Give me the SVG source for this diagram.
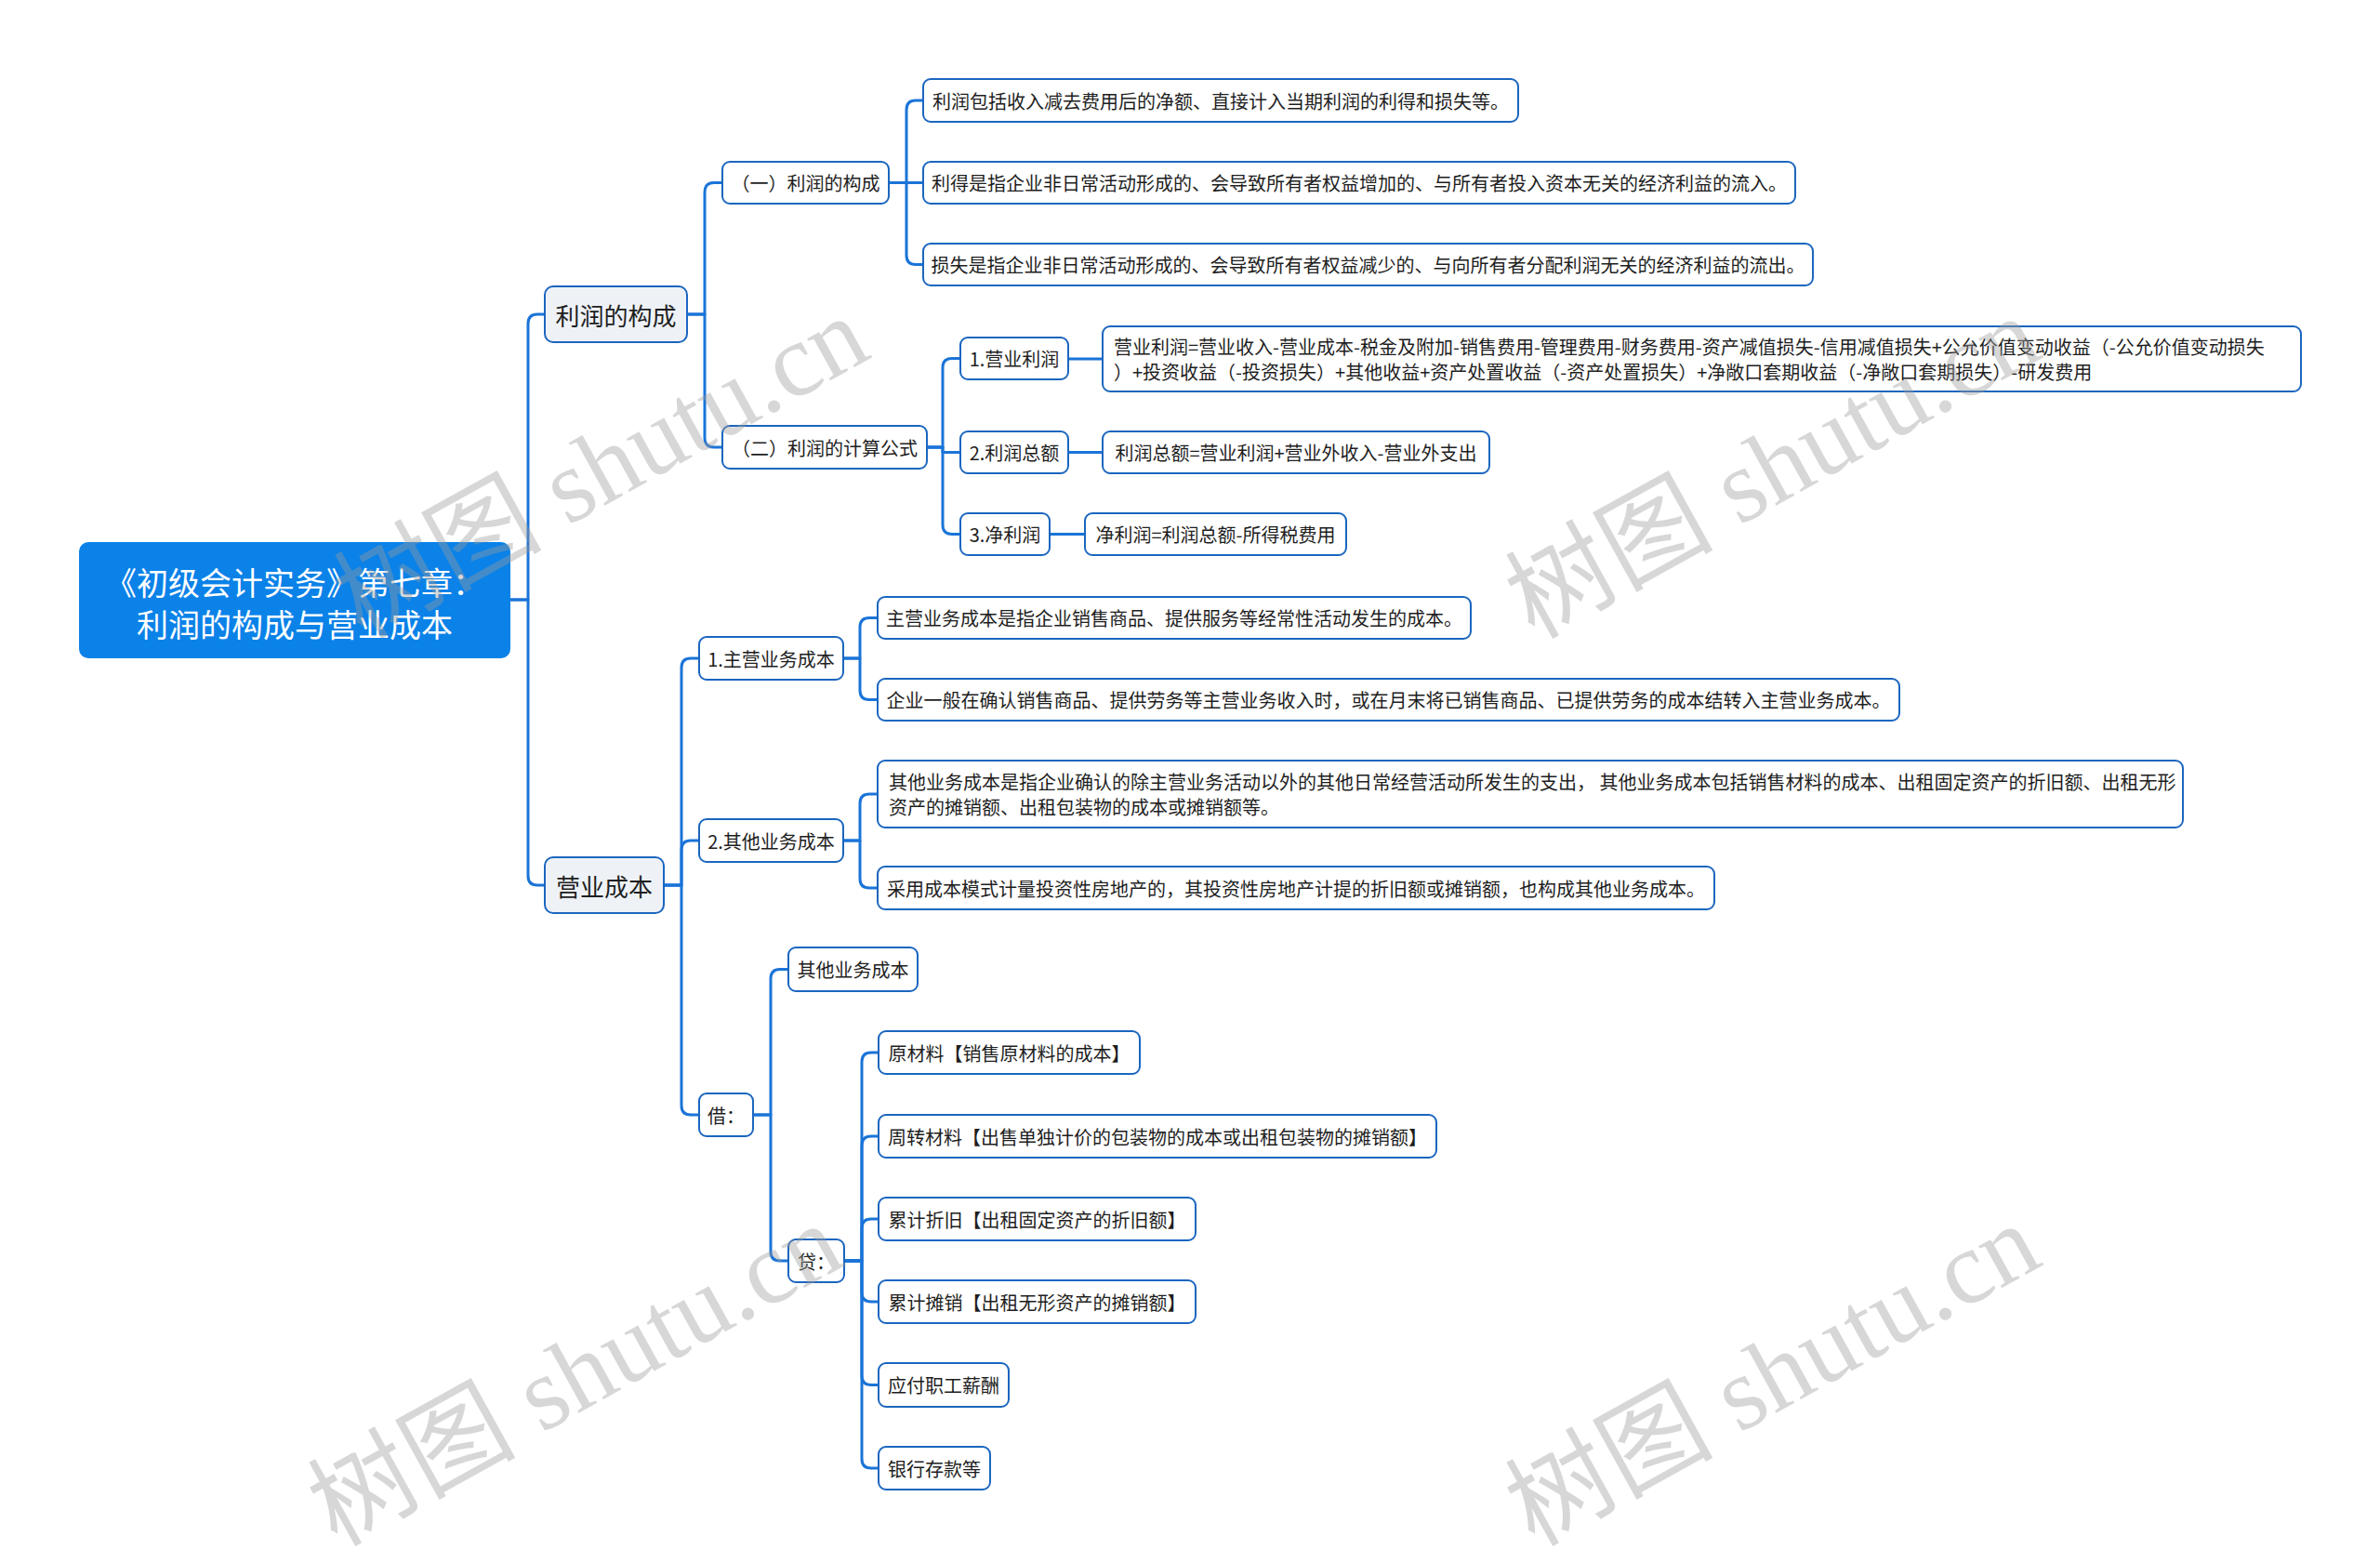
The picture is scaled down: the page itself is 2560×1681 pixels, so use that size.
<svg xmlns="http://www.w3.org/2000/svg" width="2560" height="1681" viewBox="0 0 2560 1681">
<style>
  .bg{fill:#ffffff}
  .box{fill:#ffffff;stroke:#1b66bf;stroke-width:2}
  .l1{fill:#eef2f7;stroke:#1b66bf;stroke-width:2}
  .root{fill:#0b82e8}
  text{font-family:"Noto Sans CJK SC","Noto Sans",sans-serif;fill:#1e1e1e;dominant-baseline:central}
  .t20{font-size:20px}
  .t26{font-size:26px}
  .c{text-anchor:middle}
  .rt{font-size:34px;fill:#ffffff;text-anchor:middle}
  .conn path{fill:none;stroke:#1a74d8;stroke-width:3;stroke-linejoin:round}
  .wm text{font-family:"Liberation Serif","Noto Sans CJK SC",serif;font-size:112px;fill:#9c9c9c;fill-opacity:0.4;dominant-baseline:alphabetic}
</style>
<rect class="bg" x="0" y="0" width="2560" height="1681"/>

<g id="connectors" class="conn">
  <path d="M549 645 H568 V348 Q568 338 578 338 H586"/>
  <path d="M549 645 H568 V942 Q568 952 578 952 H586"/>
  <path d="M739 338 H758 V206.5 Q758 196.5 768 196.5 H777"/>
  <path d="M739 338 H758 V471 Q758 481 768 481 H777"/>
  <path d="M956 196.5 H975 V118 Q975 108 985 108 H993"/>
  <path d="M956 196.5 H993"/>
  <path d="M956 196.5 H975 V274.5 Q975 284.5 985 284.5 H993"/>
  <path d="M996 481 H1014 V395.5 Q1014 385.5 1024 385.5 H1033"/>
  <path d="M996 481 H1014 V486.5 H1033"/>
  <path d="M996 481 H1014 V564.5 Q1014 574.5 1024 574.5 H1033"/>
  <path d="M1149 386 H1186"/>
  <path d="M1149 486.5 H1186"/>
  <path d="M1129 574.5 H1167"/>
  <path d="M714 952 H733 V718 Q733 708 743 708 H752"/>
  <path d="M714 952 H733 V914 Q733 904 743 904 H752"/>
  <path d="M714 952 H733 V1189 Q733 1199 743 1199 H752"/>
  <path d="M907 708 H925 V674.5 Q925 664.5 935 664.5 H944"/>
  <path d="M907 708 H925 V742.5 Q925 752.5 935 752.5 H944"/>
  <path d="M907 904 H925 V864 Q925 854 935 854 H944"/>
  <path d="M907 904 H925 V945 Q925 955 935 955 H944"/>
  <path d="M810 1199 H829 V1052.5 Q829 1042.5 839 1042.5 H848"/>
  <path d="M810 1199 H829 V1346 Q829 1356 839 1356 H848"/>
  <path d="M908 1356 H927 V1142 Q927 1132 937 1132 H945"/>
  <path d="M908 1356 H927 V1232 Q927 1222 937 1222 H945"/>
  <path d="M908 1356 H927 V1321 Q927 1311 937 1311 H945"/>
  <path d="M908 1356 H927 V1390 Q927 1400 937 1400 H945"/>
  <path d="M908 1356 H927 V1479.5 Q927 1489.5 937 1489.5 H945"/>
  <path d="M908 1356 H927 V1569 Q927 1579 937 1579 H945"/>
</g>

<g id="root">
  <rect class="root" x="85" y="583" width="464" height="125" rx="10"/>
  <text class="rt" x="317" y="625">《初级会计实务》第七章：</text>
  <text class="rt" x="317" y="670">利润的构成与营业成本</text>
</g>

<g id="n-lirun">
  <rect class="l1" x="586" y="308" width="153" height="60" rx="9"/>
  <text class="t26 c" x="662.5" y="338">利润的构成</text>
</g>
<g id="n-yingye">
  <rect class="l1" x="586" y="922" width="128" height="60" rx="9"/>
  <text class="t26 c" x="650" y="952">营业成本</text>
</g>

<g id="n-gc1">
  <rect class="box" x="777" y="174" width="179" height="45" rx="8"/>
  <text class="t20 c" x="866.5" y="196.5">（一）利润的构成</text>
</g>
<g id="n-gc2">
  <rect class="box" x="777" y="458" width="220" height="46" rx="8"/>
  <text class="t20 c" x="887" y="481">（二）利润的计算公式</text>
</g>

<g id="n-a1">
  <rect class="box" x="993" y="85" width="640" height="46" rx="8"/>
  <text class="t20 c" x="1313" y="108">利润包括收入减去费用后的净额、直接计入当期利润的利得和损失等。</text>
</g>
<g id="n-a2">
  <rect class="box" x="993" y="174" width="938" height="45" rx="8"/>
  <text class="t20 c" x="1462" y="196.5">利得是指企业非日常活动形成的、会导致所有者权益增加的、与所有者投入资本无关的经济利益的流入。</text>
</g>
<g id="n-a3">
  <rect class="box" x="993" y="262" width="957" height="45" rx="8"/>
  <text class="t20 c" x="1471.5" y="284.5">损失是指企业非日常活动形成的、会导致所有者权益减少的、与向所有者分配利润无关的经济利益的流出。</text>
</g>

<g id="n-b1">
  <rect class="box" x="1033" y="363" width="116" height="45" rx="8"/>
  <text class="t20 c" x="1091" y="385.5">1.营业利润</text>
</g>
<g id="n-b2">
  <rect class="box" x="1033" y="464" width="116" height="45" rx="8"/>
  <text class="t20 c" x="1091" y="486.5">2.利润总额</text>
</g>
<g id="n-b3">
  <rect class="box" x="1033" y="552" width="96" height="45" rx="8"/>
  <text class="t20 c" x="1081" y="574.5">3.净利润</text>
</g>
<g id="n-b1a">
  <rect class="box" x="1186" y="351" width="1289" height="70" rx="8"/>
  <text class="t20" x="1198" y="372.5">营业利润=营业收入-营业成本-税金及附加-销售费用-管理费用-财务费用-资产减值损失-信用减值损失+公允价值变动收益（-公允价值变动损失</text>
  <text class="t20" x="1198" y="399.5">）+投资收益（-投资损失）+其他收益+资产处置收益（-资产处置损失）+净敞口套期收益（-净敞口套期损失）-研发费用</text>
</g>
<g id="n-b2a">
  <rect class="box" x="1186" y="464" width="416" height="45" rx="8"/>
  <text class="t20 c" x="1394" y="486.5">利润总额=营业利润+营业外收入-营业外支出</text>
</g>
<g id="n-b3a">
  <rect class="box" x="1167" y="552" width="281" height="45" rx="8"/>
  <text class="t20 c" x="1307.5" y="574.5">净利润=利润总额-所得税费用</text>
</g>

<g id="n-c1">
  <rect class="box" x="752" y="685" width="155" height="46" rx="8"/>
  <text class="t20 c" x="829.5" y="708">1.主营业务成本</text>
</g>
<g id="n-c2">
  <rect class="box" x="752" y="881" width="155" height="46" rx="8"/>
  <text class="t20 c" x="829.5" y="904">2.其他业务成本</text>
</g>
<g id="n-jie">
  <rect class="box" x="752" y="1176" width="58" height="46" rx="8"/>
  <text class="t20 c" x="781" y="1199">借：</text>
</g>

<g id="n-c1a">
  <rect class="box" x="944" y="642" width="638" height="45" rx="8"/>
  <text class="t20 c" x="1263" y="664.5">主营业务成本是指企业销售商品、提供服务等经常性活动发生的成本。</text>
</g>
<g id="n-c1b">
  <rect class="box" x="944" y="730" width="1099" height="45" rx="8"/>
  <text class="t20 c" x="1493.5" y="752.5">企业一般在确认销售商品、提供劳务等主营业务收入时，或在月末将已销售商品、已提供劳务的成本结转入主营业务成本。</text>
</g>
<g id="n-c2a">
  <rect class="box" x="944" y="818" width="1404" height="72" rx="8"/>
  <text class="t20" x="956" y="840.5">其他业务成本是指企业确认的除主营业务活动以外的其他日常经营活动所发生的支出， 其他业务成本包括销售材料的成本、出租固定资产的折旧额、出租无形</text>
  <text class="t20" x="956" y="867.5">资产的摊销额、出租包装物的成本或摊销额等。</text>
</g>
<g id="n-c2b">
  <rect class="box" x="944" y="932" width="900" height="46" rx="8"/>
  <text class="t20 c" x="1394" y="955">采用成本模式计量投资性房地产的，其投资性房地产计提的折旧额或摊销额，也构成其他业务成本。</text>
</g>

<g id="n-jie1">
  <rect class="box" x="848" y="1019" width="139" height="47" rx="8"/>
  <text class="t20 c" x="917.5" y="1042.5">其他业务成本</text>
</g>
<g id="n-dai">
  <rect class="box" x="848" y="1333" width="60" height="46" rx="8"/>
  <text class="t20 c" x="878" y="1356">贷：</text>
</g>

<g id="n-d1">
  <rect class="box" x="945" y="1109" width="281" height="46" rx="8"/>
  <text class="t20 c" x="1085.5" y="1132">原材料【销售原材料的成本】</text>
</g>
<g id="n-d2">
  <rect class="box" x="945" y="1199" width="600" height="46" rx="8"/>
  <text class="t20 c" x="1245" y="1222">周转材料【出售单独计价的包装物的成本或出租包装物的摊销额】</text>
</g>
<g id="n-d3">
  <rect class="box" x="945" y="1288" width="341" height="46" rx="8"/>
  <text class="t20 c" x="1115.5" y="1311">累计折旧【出租固定资产的折旧额】</text>
</g>
<g id="n-d4">
  <rect class="box" x="945" y="1377" width="341" height="46" rx="8"/>
  <text class="t20 c" x="1115.5" y="1400">累计摊销【出租无形资产的摊销额】</text>
</g>
<g id="n-d5">
  <rect class="box" x="945" y="1466" width="140" height="47" rx="8"/>
  <text class="t20 c" x="1015" y="1489.5">应付职工薪酬</text>
</g>
<g id="n-d6">
  <rect class="box" x="945" y="1556" width="120" height="46" rx="8"/>
  <text class="t20 c" x="1005" y="1579">银行存款等</text>
</g>

<g id="watermarks" class="wm">
  <text transform="translate(390 688) rotate(-29)">树图 shutu.cn</text>
  <text transform="translate(1650 688) rotate(-29)">树图 shutu.cn</text>
  <text transform="translate(362 1664) rotate(-29)">树图 shutu.cn</text>
  <text transform="translate(1650 1664) rotate(-29)">树图 shutu.cn</text>
</g>
</svg>
